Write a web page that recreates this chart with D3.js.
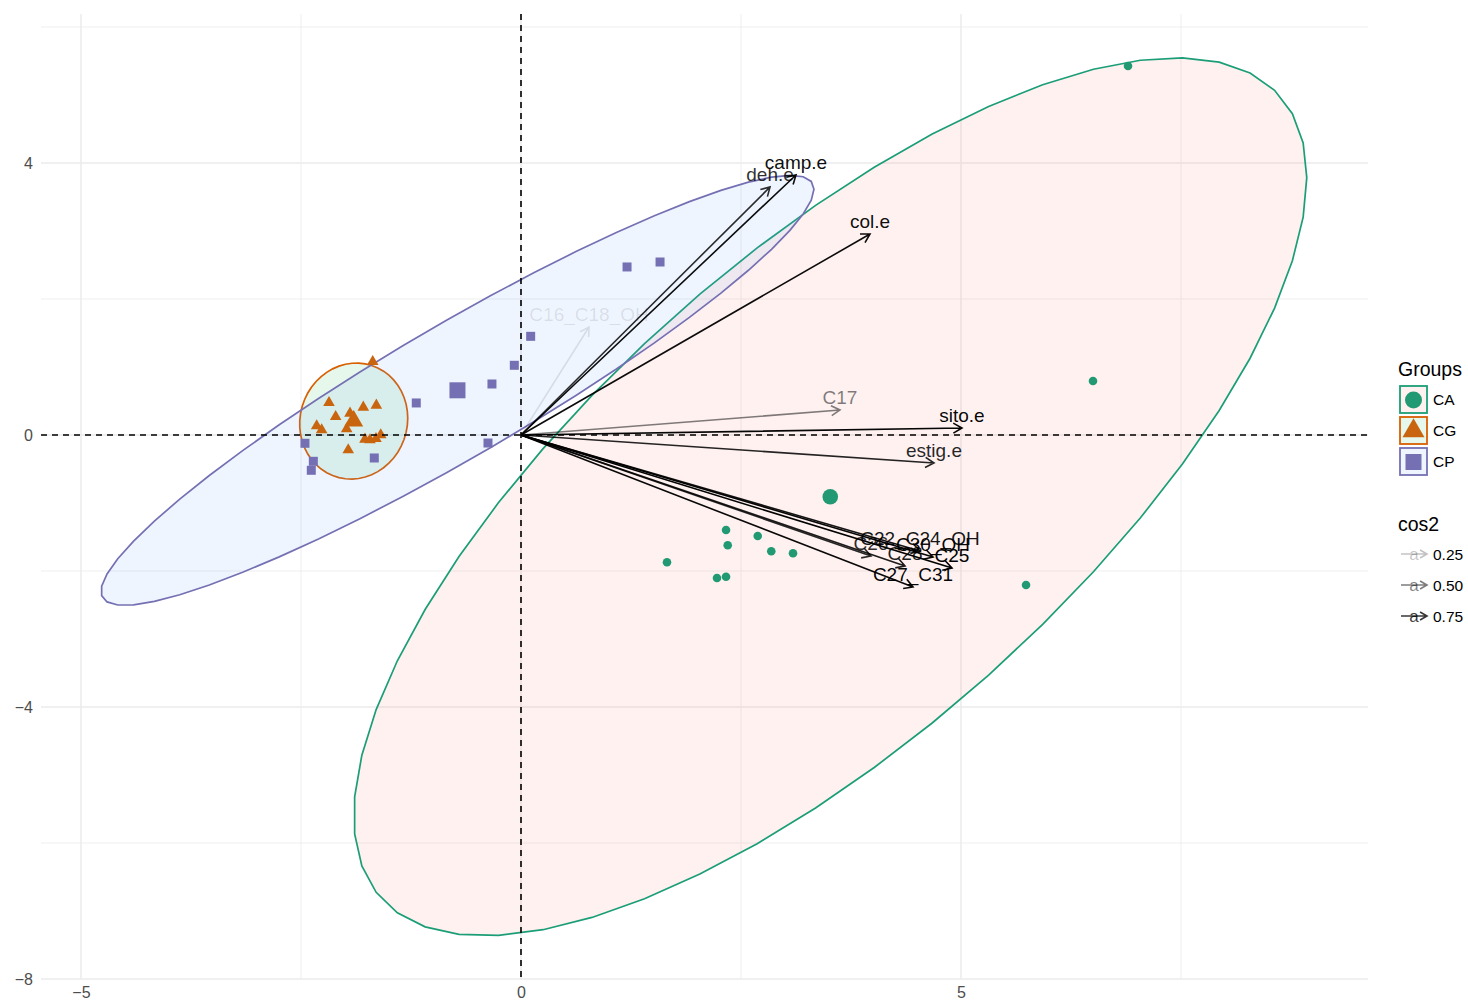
<!DOCTYPE html>
<html>
<head>
<meta charset="utf-8">
<script src="https://cdn.jsdelivr.net/npm/d3@7"></script>
<style>
  html, body { margin: 0; padding: 0; background: #fff; }
  svg { display: block; font-family: "Liberation Sans", Arial, Helvetica, sans-serif; }
</style>
</head>
<body>
<svg id="chart" width="1468" height="1003"></svg>
<script>
// ---- Groups ----
const groupNames  = ["CA", "CG", "CP"];
const groupStroke = ["#1B9E77", "#D95F02", "#7570B3"];
const groupPoint  = ["#219A74", "#C9650F", "#7570B3"];
const groupFill   = ["#F8766D", "#00BA38", "#619CFF"];
const groupShape  = ["circle", "triangle", "square"];

// ---- Individuals (PC1, PC2) ----
const caX = [6.898, 6.500, 2.330, 2.349, 2.690, 2.844, 3.091, 1.659, 2.227, 2.330, 5.739];
const caY = [5.426, 0.794, -1.397, -1.622, -1.485, -1.710, -1.740, -1.872, -2.103, -2.084, -2.206];
const cgX = [-1.685, -2.182, -1.792, -1.644, -2.106, -1.943, -2.322, -2.265, -1.981, -1.773, -1.716, -1.648, -1.594, -1.963];
const cgY = [1.078, 0.475, 0.407, 0.437, 0.269, 0.319, 0.132, 0.074, 0.088, -0.063, -0.074, -0.054, 0.000, -0.221];
const cpX = [1.205, 1.580, 0.110, -0.076, -0.330, -1.190, -0.375, -2.455, -2.360, -2.383, -1.667];
const cpY = [2.471, 2.544, 1.451, 1.025, 0.750, 0.471, -0.118, -0.122, -0.387, -0.519, -0.338];

// ---- Concentration ellipses (spread in x, spread in y, correlation) ----
const ellipseSX = [5.415, 0.614, 4.051];
const ellipseSY = [6.456, 0.853, 3.162];
const ellipseR  = [0.727, 0.05, 0.935];
const ellipseSegments = 51;

// ---- Variables (loadings scaled to the biplot) ----
const varNames = ["camp.e", "deh.e", "col.e", "C16_C18_OH", "C17", "sito.e", "estig.e",
                  "C22_C24_OH", "C26", "C30_OH", "C28", "C25", "C27_C31"];
const varX = [3.125, 2.830, 3.966, 0.773, 3.625, 5.011, 4.693, 4.534, 3.977, 4.682, 4.364, 4.898, 4.455];
const varY = [3.824, 3.647, 2.956, 1.588, 0.368, 0.103, -0.412, -1.706, -1.779, -1.794, -1.926, -1.956, -2.235];
const varCos2 = [0.91, 0.79, 0.91, 0.12, 0.49, 0.93, 0.82, 0.87, 0.80, 0.93, 0.84, 0.95, 0.92];

// ---- Axes ----
const xMajor = [-5, 0, 5];
const xMinor = [-2.5, 2.5, 7.5];
const yMajor = [-8, -4, 0, 4];
const yMinor = [-6, -2, 2, 6];
const cos2Breaks = [0.25, 0.50, 0.75];

const svg = d3.select("#chart");
const panel = { left: 41, right: 1368, top: 14, bottom: 979 };

const x = d3.scaleLinear().domain([-5.4545, 9.625]).range([panel.left, panel.right]);
const y = d3.scaleLinear().domain([-8, 6.191]).range([panel.bottom, panel.top]);
const alpha = d3.scaleLinear().domain(d3.extent(varCos2)).range([0.1, 1]);

// grid
const grid = svg.append("g");
grid.selectAll(".vmin").data(xMinor).join("line")
  .attr("x1", d => x(d)).attr("x2", d => x(d))
  .attr("y1", panel.top).attr("y2", panel.bottom)
  .attr("stroke", "#EBEBEB").attr("stroke-width", 0.8);
grid.selectAll(".hmin").data(yMinor).join("line")
  .attr("y1", d => y(d)).attr("y2", d => y(d))
  .attr("x1", panel.left).attr("x2", panel.right)
  .attr("stroke", "#EBEBEB").attr("stroke-width", 0.8);
grid.selectAll(".vmaj").data(xMajor).join("line")
  .attr("x1", d => x(d)).attr("x2", d => x(d))
  .attr("y1", panel.top).attr("y2", panel.bottom)
  .attr("stroke", "#EBEBEB").attr("stroke-width", 1.5);
grid.selectAll(".hmaj").data(yMajor).join("line")
  .attr("y1", d => y(d)).attr("y2", d => y(d))
  .attr("x1", panel.left).attr("x2", panel.right)
  .attr("stroke", "#EBEBEB").attr("stroke-width", 1.5);

// axis tick labels
const xAxis = svg.append("g")
  .attr("transform", `translate(0,${panel.bottom})`)
  .call(d3.axisBottom(x).tickValues(xMajor).tickSize(0).tickPadding(8));
const yAxis = svg.append("g")
  .attr("transform", `translate(${panel.left},0)`)
  .call(d3.axisLeft(y).tickValues(yMajor).tickSize(0).tickPadding(8));
[xAxis, yAxis].forEach(a => {
  a.select(".domain").remove();
  a.selectAll("text").attr("fill", "#4D4D4D").style("font-size", "16px")
    .style("font-family", "'Liberation Sans', Arial, sans-serif");
});

// individuals by group
const groupX = [caX, cgX, cpX];
const groupY = [caY, cgY, cpY];
const groups = groupNames.map((g, i) => ({
  name: g, i,
  pts: groupX[i].map((v, k) => ({ x: v, y: groupY[i][k] })),
  cx: d3.mean(groupX[i]), cy: d3.mean(groupY[i])
}));

// ellipses
const ellipsePts = g => d3.range(ellipseSegments + 1).map(k => {
  const t = 2 * Math.PI * k / ellipseSegments;
  const sx = ellipseSX[g.i], sy = ellipseSY[g.i], r = ellipseR[g.i];
  return [g.cx + sx * Math.cos(t), g.cy + sy * (r * Math.cos(t) + Math.sqrt(1 - r * r) * Math.sin(t))];
});
const line = d3.line().x(d => x(d[0])).y(d => y(d[1]));
svg.append("g").selectAll("path").data(groups).join("path")
  .attr("d", g => line(ellipsePts(g)) + "Z")
  .attr("fill", g => groupFill[g.i]).attr("fill-opacity", 0.1)
  .attr("stroke", g => groupStroke[g.i]).attr("stroke-width", 1.7);

// point glyphs; size is the half-width of the glyph
function glyph(sel, shape, size, color) {
  if (shape === "circle") {
    sel.append("circle").attr("r", size).attr("fill", color);
  } else if (shape === "square") {
    sel.append("rect").attr("x", -size).attr("y", -size)
      .attr("width", 2 * size).attr("height", 2 * size).attr("fill", color);
  } else {
    const side = size * 2;
    sel.append("path").attr("d", d3.symbol(d3.symbolTriangle, Math.sqrt(3) / 4 * side * side)()).attr("fill", color);
  }
}
const pts = svg.append("g");
groups.forEach(g => {
  const small = [4.3, 5.8, 4.5][g.i];
  const big = [7.8, 9.5, 8][g.i];
  g.pts.forEach(p => {
    const s = pts.append("g").attr("transform", `translate(${x(p.x)},${y(p.y)})`);
    glyph(s, groupShape[g.i], small, groupPoint[g.i]);
  });
  const m = pts.append("g").attr("transform", `translate(${x(g.cx)},${y(g.cy)})`);
  glyph(m, groupShape[g.i], big, groupPoint[g.i]);
});

// reference lines
svg.append("line").attr("x1", panel.left).attr("x2", panel.right)
  .attr("y1", y(0)).attr("y2", y(0))
  .attr("stroke", "#000").attr("stroke-width", 1.6).attr("stroke-dasharray", "6,5");
svg.append("line").attr("y1", panel.top).attr("y2", panel.bottom)
  .attr("x1", x(0)).attr("x2", x(0))
  .attr("stroke", "#000").attr("stroke-width", 1.6).attr("stroke-dasharray", "6,5");

// variable arrows
function arrowPath(x0, y0, x1, y1, head) {
  const a = Math.atan2(y1 - y0, x1 - x0);
  const h1 = [x1 - head * Math.cos(a - Math.PI / 6), y1 - head * Math.sin(a - Math.PI / 6)];
  const h2 = [x1 - head * Math.cos(a + Math.PI / 6), y1 - head * Math.sin(a + Math.PI / 6)];
  return `M${x0},${y0}L${x1},${y1}M${h1[0]},${h1[1]}L${x1},${y1}L${h2[0]},${h2[1]}`;
}
const vars = varNames.map((n, i) => ({ name: n, x: varX[i], y: varY[i], cos2: varCos2[i] }));
const va = svg.append("g");
va.selectAll("path").data(vars).join("path")
  .attr("d", d => arrowPath(x(0), y(0), x(d.x), y(d.y), 10))
  .attr("fill", "none").attr("stroke", "#000").attr("stroke-width", 1.6)
  .attr("stroke-opacity", d => alpha(d.cos2));
va.selectAll("text").data(vars).join("text")
  .attr("x", d => x(d.x)).attr("y", d => y(d.y) - 6)
  .attr("text-anchor", "middle").style("font-size", "19px")
  .attr("fill", "#000").attr("fill-opacity", d => alpha(d.cos2))
  .text(d => d.name);

// legend: groups
const lg = svg.append("g");
lg.append("text").attr("x", 1398).attr("y", 376).style("font-size", "19.5px").text("Groups");
groups.forEach((g, i) => {
  const ky = 385 + i * 31;
  const k = lg.append("g").attr("transform", `translate(1399,${ky})`);
  k.append("rect").attr("x", 1).attr("y", 1).attr("width", 27).attr("height", 27)
    .attr("fill", "#fff");
  k.append("rect").attr("x", 1).attr("y", 1).attr("width", 27).attr("height", 27)
    .attr("fill", groupFill[i]).attr("fill-opacity", 0.1)
    .attr("stroke", groupStroke[i]).attr("stroke-width", 1.8);
  const c = k.append("g").attr("transform", "translate(14.5,15)");
  glyph(c, groupShape[i], [8.5, 11, 8][i], groupPoint[i]);
  lg.append("text").attr("x", 1433).attr("y", ky + 20).style("font-size", "15.5px").text(g.name);
});

// legend: cos2
lg.append("text").attr("x", 1398).attr("y", 531).style("font-size", "19.5px").text("cos2");
cos2Breaks.forEach((b, i) => {
  const ky = 554 + i * 31;
  const op = alpha(b);
  lg.append("text").attr("x", 1414).attr("y", ky + 6).attr("text-anchor", "middle")
    .style("font-size", "17px").attr("fill", "#000").attr("fill-opacity", op).text("a");
  lg.append("path").attr("d", arrowPath(1401, ky, 1427, ky, 8))
    .attr("fill", "none").attr("stroke", "#000").attr("stroke-width", 1.6).attr("stroke-opacity", op);
  lg.append("text").attr("x", 1433).attr("y", ky + 6).style("font-size", "15.5px").text(d3.format(".2f")(b));
});
</script>
</body>
</html>
